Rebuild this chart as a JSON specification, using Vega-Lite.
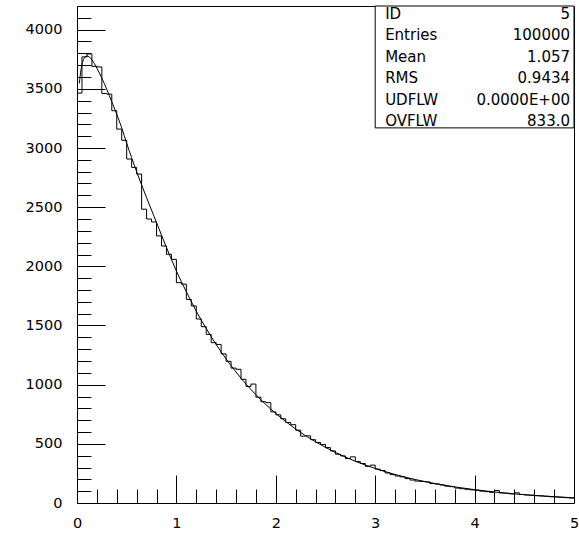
{
  "$schema": "https://vega.github.io/schema/vega-lite/v6.json",
  "autosize": "none",
  "width": 497,
  "height": 497,
  "padding": {"left": 77, "top": 6, "right": 5, "bottom": 32},
  "background": "white",
  "config": {
    "view": {"stroke": "black", "strokeWidth": 1},
    "axis": {"labelOverlap": false, "labelFlush": false},
    "text": {"font": "DejaVu Sans", "fontSize": 15, "color": "black"}
  },
  "datasets": {
    "bins": [
      {"lo":0,"hi":0.05,"n":3464},{"lo":0.05,"hi":0.1,"n":3770},{"lo":0.1,"hi":0.15,"n":3795},{"lo":0.15,"hi":0.2,"n":3690},{"lo":0.2,"hi":0.25,"n":3685},
      {"lo":0.25,"hi":0.3,"n":3460},{"lo":0.3,"hi":0.35,"n":3455},{"lo":0.35,"hi":0.4,"n":3315},{"lo":0.4,"hi":0.45,"n":3160},{"lo":0.45,"hi":0.5,"n":3065},
      {"lo":0.5,"hi":0.55,"n":2907},{"lo":0.55,"hi":0.6,"n":2836},{"lo":0.6,"hi":0.65,"n":2780},{"lo":0.65,"hi":0.7,"n":2483},{"lo":0.7,"hi":0.75,"n":2400},
      {"lo":0.75,"hi":0.8,"n":2375},{"lo":0.8,"hi":0.85,"n":2257},{"lo":0.85,"hi":0.9,"n":2172},{"lo":0.9,"hi":0.95,"n":2102},{"lo":0.95,"hi":1.0,"n":2059},
      {"lo":1.0,"hi":1.05,"n":1862},{"lo":1.05,"hi":1.1,"n":1850},{"lo":1.1,"hi":1.15,"n":1720},{"lo":1.15,"hi":1.2,"n":1665},{"lo":1.2,"hi":1.25,"n":1555},
      {"lo":1.25,"hi":1.3,"n":1490},{"lo":1.3,"hi":1.35,"n":1425},{"lo":1.35,"hi":1.4,"n":1355},{"lo":1.4,"hi":1.45,"n":1340},{"lo":1.45,"hi":1.5,"n":1260},
      {"lo":1.5,"hi":1.55,"n":1197},{"lo":1.55,"hi":1.6,"n":1140},{"lo":1.6,"hi":1.65,"n":1130},{"lo":1.65,"hi":1.7,"n":1045},{"lo":1.7,"hi":1.75,"n":985},
      {"lo":1.75,"hi":1.8,"n":1005},{"lo":1.8,"hi":1.85,"n":894},{"lo":1.85,"hi":1.9,"n":856},{"lo":1.9,"hi":1.95,"n":848},{"lo":1.95,"hi":2.0,"n":770},
      {"lo":2.0,"hi":2.05,"n":745},{"lo":2.05,"hi":2.1,"n":712},{"lo":2.1,"hi":2.15,"n":680},{"lo":2.15,"hi":2.2,"n":662},{"lo":2.2,"hi":2.25,"n":615},
      {"lo":2.25,"hi":2.3,"n":565},{"lo":2.3,"hi":2.35,"n":568},{"lo":2.35,"hi":2.4,"n":535},{"lo":2.4,"hi":2.45,"n":512},{"lo":2.45,"hi":2.5,"n":495},
      {"lo":2.5,"hi":2.55,"n":468},{"lo":2.55,"hi":2.6,"n":440},{"lo":2.6,"hi":2.65,"n":412},{"lo":2.65,"hi":2.7,"n":398},{"lo":2.7,"hi":2.75,"n":376},
      {"lo":2.75,"hi":2.8,"n":390},{"lo":2.8,"hi":2.85,"n":350},{"lo":2.85,"hi":2.9,"n":334},{"lo":2.9,"hi":2.95,"n":310},{"lo":2.95,"hi":3.0,"n":320},
      {"lo":3.0,"hi":3.05,"n":286},{"lo":3.05,"hi":3.1,"n":274},{"lo":3.1,"hi":3.15,"n":254},{"lo":3.15,"hi":3.2,"n":240},{"lo":3.2,"hi":3.25,"n":228},
      {"lo":3.25,"hi":3.3,"n":221},{"lo":3.3,"hi":3.35,"n":206},{"lo":3.35,"hi":3.4,"n":194},{"lo":3.4,"hi":3.45,"n":185},{"lo":3.45,"hi":3.5,"n":182},
      {"lo":3.5,"hi":3.55,"n":178},{"lo":3.55,"hi":3.6,"n":164},{"lo":3.6,"hi":3.65,"n":160},{"lo":3.65,"hi":3.7,"n":152},{"lo":3.7,"hi":3.75,"n":142},
      {"lo":3.75,"hi":3.8,"n":138},{"lo":3.8,"hi":3.85,"n":126},{"lo":3.85,"hi":3.9,"n":121},{"lo":3.9,"hi":3.95,"n":116},{"lo":3.95,"hi":4.0,"n":111},
      {"lo":4.0,"hi":4.05,"n":107},{"lo":4.05,"hi":4.1,"n":100},{"lo":4.1,"hi":4.15,"n":96},{"lo":4.15,"hi":4.2,"n":90},{"lo":4.2,"hi":4.25,"n":106},
      {"lo":4.25,"hi":4.3,"n":85},{"lo":4.3,"hi":4.35,"n":82},{"lo":4.35,"hi":4.4,"n":77},{"lo":4.4,"hi":4.45,"n":86},{"lo":4.45,"hi":4.5,"n":72},
      {"lo":4.5,"hi":4.55,"n":68},{"lo":4.55,"hi":4.6,"n":66},{"lo":4.6,"hi":4.65,"n":62},{"lo":4.65,"hi":4.7,"n":60},{"lo":4.7,"hi":4.75,"n":57},
      {"lo":4.75,"hi":4.8,"n":53},{"lo":4.8,"hi":4.85,"n":51},{"lo":4.85,"hi":4.9,"n":48},{"lo":4.9,"hi":4.95,"n":45},{"lo":4.95,"hi":5.0,"n":42}
    ],
    "fit": [
      {"x":0.023,"y":3545},{"x":0.04,"y":3660},{"x":0.06,"y":3735},{"x":0.08,"y":3768},{"x":0.1,"y":3776},{"x":0.12,"y":3772},
      {"x":0.15,"y":3745},{"x":0.2,"y":3675},{"x":0.25,"y":3590},{"x":0.3,"y":3495},{"x":0.35,"y":3390},{"x":0.4,"y":3285},
      {"x":0.45,"y":3170},{"x":0.5,"y":3040},{"x":0.6,"y":2800},{"x":0.7,"y":2580},{"x":0.8,"y":2370},{"x":0.9,"y":2160},
      {"x":1.0,"y":1960},{"x":1.1,"y":1785},{"x":1.2,"y":1621},{"x":1.3,"y":1474},{"x":1.4,"y":1339},{"x":1.5,"y":1218},
      {"x":1.6,"y":1107},{"x":1.7,"y":1006},{"x":1.8,"y":915},{"x":1.9,"y":832},{"x":2.0,"y":757},{"x":2.2,"y":625},
      {"x":2.4,"y":517},{"x":2.6,"y":427},{"x":2.8,"y":353},{"x":3.0,"y":292},{"x":3.2,"y":241},{"x":3.4,"y":199},
      {"x":3.6,"y":165},{"x":3.8,"y":136},{"x":4.0,"y":113},{"x":4.2,"y":93},{"x":4.4,"y":77},{"x":4.6,"y":64},
      {"x":4.8,"y":53},{"x":5.0,"y":44}
    ],
    "stats": [
      {"k":"ID","v":"5"},{"k":"Entries","v":"100000"},{"k":"Mean","v":"1.057"},
      {"k":"RMS","v":"0.9434"},{"k":"UDFLW","v":"0.0000E+00"},{"k":"OVFLW","v":"833.0"}
    ]
  },
  "layer": [
    {
      "layer": [
        {
          "data": {"name": "bins"},
          "mark": {"type": "rule", "color": "black", "strokeWidth": 1},
          "encoding": {
            "x": {"field": "lo", "type": "quantitative",
              "scale": {"domain": [0, 5], "nice": false, "zero": false},
              "axis": {
                "title": null, "orient": "bottom", "domain": false, "grid": false,
                "values": [0,0.2,0.4,0.6,0.8,1,1.2,1.4,1.6,1.8,2,2.2,2.4,2.6,2.8,3,3.2,3.4,3.6,3.8,4,4.2,4.4,4.6,4.8,5],
                "tickCount": 500,
                "labelExpr": "abs(datum.value - round(datum.value)) < 0.001 ? format(datum.value, 'd') : ''",
                "labelFont": "DejaVu Sans", "labelFontSize": 14.5, "labelColor": "black",
                "labelFlush": false, "labelOverlap": false, "labelPadding": 41, "labelBaseline": "top",
                "ticks": true, "tickColor": "black", "tickWidth": 1,
                "tickSize": {"expr": "abs(datum.value - round(datum.value)) < 0.001 ? -28 : -14"}
              }
            },
            "x2": {"field": "hi"},
            "y": {"field": "n", "type": "quantitative",
              "scale": {"domain": [0, 4200], "nice": false, "zero": true},
              "axis": {
                "title": null, "orient": "left", "domain": false, "grid": false,
                "values": [0,100,200,300,400,500,600,700,800,900,1000,1100,1200,1300,1400,1500,1600,1700,1800,1900,2000,2100,2200,2300,2400,2500,2600,2700,2800,2900,3000,3100,3200,3300,3400,3500,3600,3700,3800,3900,4000,4100,4200],
                "tickCount": 500,
                "labelExpr": "datum.value % 500 === 0 ? format(datum.value, 'd') : ''",
                "labelFont": "DejaVu Sans", "labelFontSize": 14.5, "labelColor": "black",
                "labelFlush": false, "labelOverlap": false, "labelPadding": 43,
                "ticks": true, "tickColor": "black", "tickWidth": 1,
                "tickSize": {"expr": "datum.value % 500 === 0 ? -28 : -14"}
              }
            }
          }
        },
        {
          "data": {"name": "bins"},
          "transform": [
            {"window": [{"op": "lag", "field": "n", "as": "prev"}], "sort": [{"field": "lo", "order": "ascending"}]}
          ],
          "mark": {"type": "rule", "color": "black", "strokeWidth": 1},
          "encoding": {
            "x": {"field": "lo", "type": "quantitative"},
            "y": {"field": "prev", "type": "quantitative"},
            "y2": {"field": "n"}
          }
        },
        {
          "data": {"name": "fit"},
          "mark": {"type": "line", "color": "black", "strokeWidth": 1, "interpolate": "monotone"},
          "encoding": {
            "x": {"field": "x", "type": "quantitative"},
            "y": {"field": "y", "type": "quantitative"}
          }
        },
        {
          "data": {"values": [{}]},
          "mark": {"type": "rect", "fill": "white", "stroke": "black", "strokeWidth": 1},
          "encoding": {
            "x": {"datum": 3.0, "type": "quantitative"},
            "x2": {"datum": 5.0},
            "y": {"datum": 3170, "type": "quantitative"},
            "y2": {"datum": 4200}
          }
        }
      ]
    },
    {
      "data": {"name": "stats"},
      "encoding": {
        "y": {"field": "k", "type": "nominal", "sort": null,
          "scale": {"type": "point", "range": [8, 115], "padding": 0}, "axis": null}
      },
      "layer": [
        {
          "mark": {"type": "text", "align": "left", "baseline": "middle", "font": "DejaVu Sans", "fontSize": 15, "color": "black"},
          "encoding": {"x": {"datum": 3.1, "type": "quantitative"}, "text": {"field": "k"}}
        },
        {
          "mark": {"type": "text", "align": "right", "baseline": "middle", "font": "DejaVu Sans", "fontSize": 15, "color": "black"},
          "encoding": {"x": {"datum": 4.96, "type": "quantitative"}, "text": {"field": "v"}}
        }
      ]
    }
  ],
  "resolve": {"scale": {"y": "independent"}}
}
